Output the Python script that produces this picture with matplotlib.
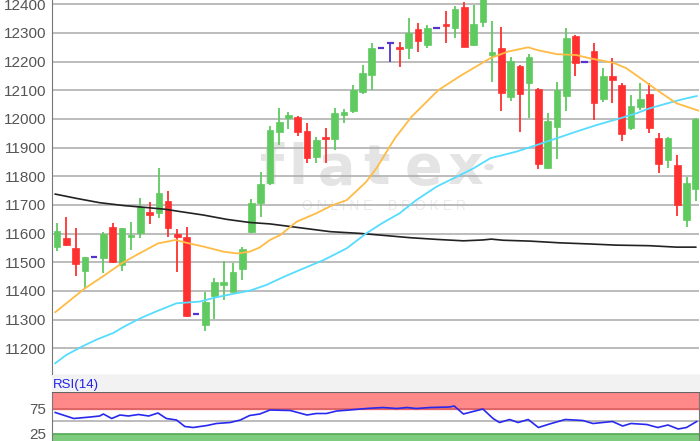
import numpy as np
import matplotlib
matplotlib.use("Agg")
import matplotlib.pyplot as plt
from matplotlib.patches import Rectangle

plt.rcParams['font.family'] = ['Liberation Sans', 'DejaVu Sans']

# candle data (open, high, low, close)
opens = [11553, 11586, 11551, 11471, 11518, 11516, 11624, 11491, 11589, 11601,
         11675, 11671, 11715, 11598, 11588, 11320, 11281, 11384, 11421, 11398,
         11476, 11607, 11706, 11776, 11956, 12002, 12008, 11958, 11866, 11938,
         11929, 12014, 12029, 12095, 12153, 12247, 12264, 12252, 12249, 12314,
         12258, 12318, 12331, 12316, 12390, 12258, 12339, 12223, 12247, 12076,
         12185, 12127, 12104, 11828, 11973, 12081, 12289, 12198, 12238, 12070,
         12151, 12119, 11967, 12043, 12087, 11934, 11857, 11839, 11648, 11756]
highs = [11637, 11657, 11619, 11518, 11518, 11605, 11636, 11619, 11642, 11723,
         11711, 11828, 11750, 11616, 11624, 11320, 11396, 11446, 11505, 11498,
         11553, 11720, 11816, 11976, 12037, 12025, 12011, 11987, 11938, 11967,
         12037, 12034, 12119, 12188, 12266, 12247, 12266, 12268, 12351, 12334,
         12328, 12318, 12378, 12394, 12409, 12398, 12470, 12343, 12320, 12217,
         12188, 12226, 12107, 12022, 12130, 12316, 12293, 12198, 12266, 12179,
         12212, 12124, 12084, 12124, 12124, 11952, 11938, 11874, 11797, 12003]
lows = [11540, 11557, 11452, 11410, 11518, 11462, 11497, 11471, 11543, 11584,
        11633, 11654, 11589, 11467, 11308, 11320, 11260, 11301, 11369, 11395,
        11438, 11601, 11657, 11770, 11909, 11964, 11941, 11845, 11845, 11845,
        11892, 11985, 12020, 12086, 12101, 12247, 12200, 12182, 12208, 12235,
        12249, 12318, 12264, 12281, 12250, 12255, 12322, 12130, 12028, 12063,
        11954, 12002, 11824, 11824, 11859, 12028, 12150, 12198, 11996, 12060,
        12055, 11924, 11962, 12031, 11950, 11810, 11828, 11662, 11624, 11715]
closes = [11609, 11560, 11494, 11518, 11518, 11600, 11502, 11619, 11595, 11694,
          11665, 11741, 11621, 11589, 11313, 11320, 11363, 11432, 11432, 11467,
          11545, 11708, 11772, 11962, 11991, 12014, 11956, 11863, 11927, 11929,
          12022, 12025, 12101, 12161, 12247, 12247, 12264, 12244, 12299, 12273,
          12318, 12318, 12325, 12383, 12250, 12331, 12440, 12235, 12090, 12202,
          12086, 12215, 11842, 11994, 12101, 12283, 12196, 12198, 12055, 12151,
          12136, 11947, 12046, 12070, 11970, 11843, 11935, 11700, 11776, 11999]

# moving averages, read at points along the lines (candle index, value)
ma_short_x = [-0.2, 3, 5, 7, 8.6, 10.9, 12.8, 14, 15.8, 18, 19.4, 20.8, 21.9, 23,
              24.1, 25.9, 28, 29.8, 31.3, 33.4, 34.5, 36.5, 38.3, 41.2, 43.7,
              46.8, 48.7, 50.9, 51.8, 54, 56.1, 57.5, 60.1, 61.5, 63.3, 64.8,
              66.9, 69.4]
ma_short_y = [11326, 11409, 11452, 11497, 11526, 11566, 11578, 11568, 11555, 11537,
              11531, 11537, 11552, 11578, 11595, 11642, 11671, 11700, 11717, 11781,
              11828, 11933, 12008, 12101, 12153, 12212, 12235, 12250,
              12241, 12226, 12223, 12212, 12196, 12177, 12136, 12101, 12055, 12028]
ma_mid_x = [-0.2, 1, 2.8, 4.3, 6.1, 7.2, 9, 10.8, 12.9, 15.4, 17.2, 19, 20.8, 22.6,
            24.4, 26.2, 28.8, 31.3, 33.4, 35.2, 37, 38.8, 41, 43.2, 45, 46.8, 49.6,
            51.8, 54, 56.1, 58.3, 60.8, 62.6, 64, 66.2, 67.6, 69.1]
ma_mid_y = [11148, 11177, 11208, 11231, 11254, 11275, 11305, 11330, 11357, 11363,
            11378, 11390, 11401, 11421, 11448, 11473, 11508, 11549, 11601, 11638,
            11671, 11717, 11764, 11799, 11828, 11863, 11886, 11909, 11933, 11956,
            11979, 12002, 12020, 12037, 12057, 12069, 12080]
ma_long_x = [-0.2, 2.1, 4.6, 7.2, 9.7, 11.7, 13.3, 15.8, 18.3, 20.8, 23, 25.9, 29.5,
             32.7, 36, 38.1, 41, 43.9, 46, 46.9, 48.2, 51.1, 54.3, 57.6, 60.4, 64,
             66.9, 69]
ma_long_y = [11738, 11723, 11708, 11698, 11691, 11685, 11677, 11665, 11650, 11639,
             11634, 11622, 11607, 11601, 11592, 11586, 11580, 11575, 11578, 11581,
             11577, 11574, 11568, 11564, 11560, 11558, 11553, 11553]

# RSI(14) read at points along the line
rsi_x = [-0.2, 1.8, 3.6, 4.6, 5, 5.9, 6.8, 7.7, 8.8, 9.9, 10.9, 11.8, 12.9, 13.8,
         14.7, 16.2, 17.2, 18.7, 19.8, 20.8, 21.9, 23, 25.2, 27, 28, 29.1, 30.2,
         31.6, 33.4, 35.2, 36.7, 37.8, 38.8, 40.3, 42.4, 42.9, 43.9, 46, 47.1, 47.8,
         48.9, 49.8, 50.9, 52, 53.2, 54.9, 56.8, 57.9, 60, 61.1, 62, 63.7, 64.9, 66,
         67.1, 68, 69.1]
rsi_y = [67, 55, 58, 60, 64, 55, 62, 60, 63, 60, 66, 55, 52, 39,
         37, 41, 45, 47, 52, 61, 64, 72, 71, 62, 65, 65, 70,
         72, 75, 77, 75, 77, 75, 77, 78, 80, 64, 74, 55, 47,
         53, 47, 53, 37, 44, 53, 51, 45, 49, 40, 45, 43, 37, 42,
         34, 37, 49]

W, H = 700, 441
fig = plt.figure(figsize=(7, 4.41), dpi=100)
fig.patch.set_facecolor('white')

# grey strip between the two panels
fig.patches.append(Rectangle((52 / W, 1 - 392 / H), (700 - 52) / W, 17 / H,
                             transform=fig.transFigure, facecolor='#f2f2f2',
                             edgecolor='none', zorder=0))

ax = fig.add_axes([52 / W, 1 - 375 / H, (699 - 52) / W, 375 / H])
ax.set_xlim(-0.55, 69.35)
ax.set_ylim(11107, 12415)
ax.set_yticks(range(11200, 12401, 100))
ax.set_xticks([])
ax.tick_params(axis='y', length=0, pad=4, labelsize=11, labelcolor='#555555')
ax.yaxis.grid(True, color='#aaaaaa', lw=1.1)
ax.set_axisbelow(True)
for s in ['top', 'right']:
    ax.spines[s].set_visible(False)
ax.spines['left'].set_color('#777777')
ax.spines['bottom'].set_color('#666666')

# watermark, behind the candles
letters = ['f', 'l', 'a', 't', 'e', 'x']
lx = [272, 298, 336, 377, 423, 465]
for ch, xp in zip(letters, lx):
    ax.text(xp / W, 1 - 184 / H, ch, fontsize=40, color='#e4e4e4',
            ha='center', va='baseline', family='DejaVu Sans', weight='bold',
            transform=fig.transFigure, zorder=0.2)
ax.add_patch(plt.Circle((489 / W, 1 - 167 / H), 4 / W, transform=fig.transFigure,
                        color='#e4e4e4', zorder=0.2))
ax.text(384 / W, 1 - 206 / H, 'O N L I N E    B R O K E R', fontsize=10,
        color='#ebebeb', ha='center', va='center', transform=fig.transFigure,
        zorder=0.2)

green = '#5fca5f'
red = '#ff3030'
doji = '#5533cc'
bw = 0.72
for i in range(len(opens)):
    o, h, l, c = opens[i], highs[i], lows[i], closes[i]
    if c > o:
        col = green
    elif c < o:
        col = red
    else:
        col = doji
    ax.plot([i, i], [l, h], color=col, lw=1.3, zorder=3, solid_capstyle='butt')
    if c == o:
        ax.plot([i - bw / 2, i + bw / 2], [o, o], color=col, lw=1.6, zorder=4,
                solid_capstyle='butt')
    else:
        ax.add_patch(Rectangle((i - bw / 2, min(o, c)), bw, abs(c - o),
                               facecolor=col, edgecolor=col, lw=0.5, zorder=4))

ax.plot(ma_long_x, ma_long_y, color='#222222', lw=1.2, zorder=5)
ax.plot(ma_mid_x, ma_mid_y, color='#55dcff', lw=1.3, zorder=5)
ax.plot(ma_short_x, ma_short_y, color='#ffbb44', lw=1.3, zorder=5)

# RSI panel
rx = fig.add_axes([52 / W, 0, (699 - 52) / W, 1 - 392 / H])
rx.set_xlim(-0.55, 69.35)
rx.set_ylim(10, 108)
rx.axhspan(75, 110, color='#ff8888', zorder=1)
rx.axhline(75, color='#d86060', lw=1.2, zorder=2)
rx.axhspan(0, 25, color='#7dcc7d', zorder=1)
rx.axhline(25, color='#55aa55', lw=1.2, zorder=2)
rx.axhline(50, color='#aaaaaa', lw=1.1, zorder=2)
rx.plot(rsi_x, rsi_y, color='#2828ee', lw=1.2, zorder=3)
rx.set_xticks([])
rx.set_yticks([75, 25])
rx.tick_params(axis='y', length=0, pad=4, labelsize=11, labelcolor='#555555')
rx.spines['top'].set_color('#666666')
rx.spines['left'].set_color('#777777')
rx.spines['right'].set_color('#777777')
rx.spines['bottom'].set_visible(False)

fig.text(53 / W, 1 - 385 / H, 'RSI(14)', fontsize=9.5, color='#2222ee',
         ha='left', va='center')

fig.savefig('out.png', dpi=100)
